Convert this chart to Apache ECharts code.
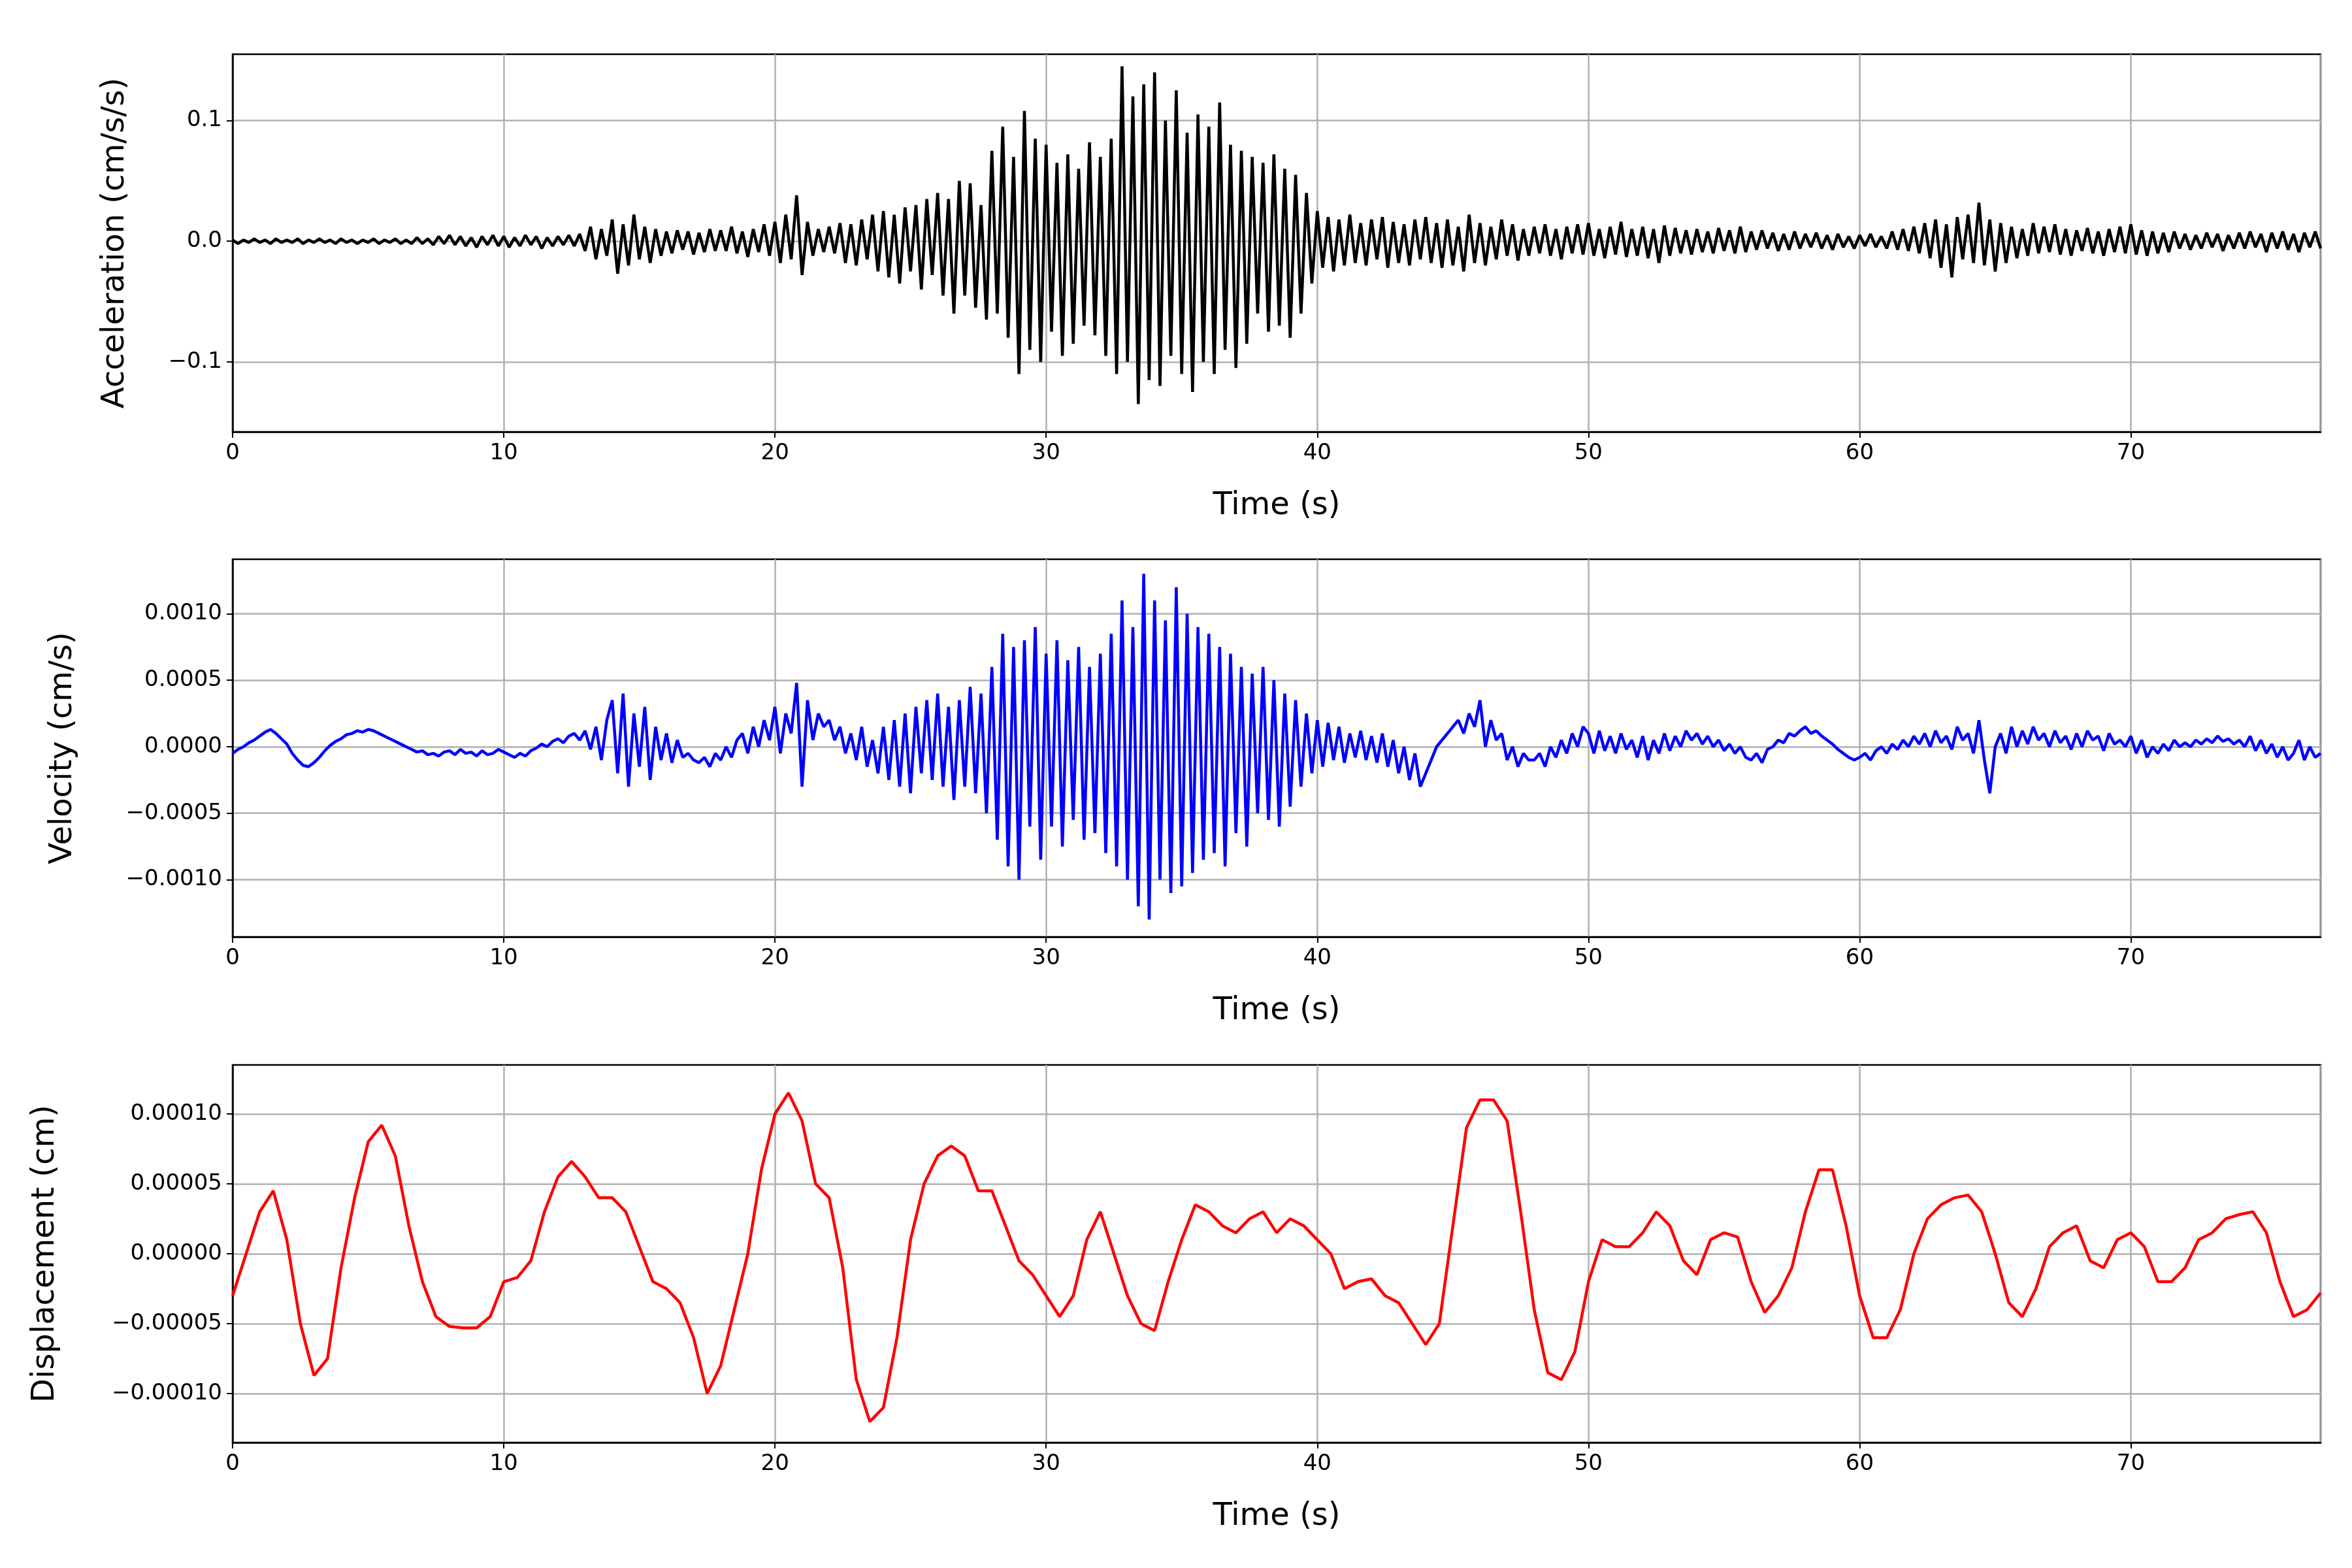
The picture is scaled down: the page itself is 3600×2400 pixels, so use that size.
<!DOCTYPE html>
<html><head><meta charset="utf-8">
<script src="https://cdn.jsdelivr.net/npm/echarts@6/dist/echarts.min.js"></script>
<style>html,body{margin:0;background:#fff}#c{width:3600px;height:2400px}</style>
</head><body><div id="c"></div>
<script>
// Acceleration, units of 1e-3 cm/s/s, every 0.2 s
const accMilli=[1,-2,1,-1,2,-1,1,-2,2,-1,1,-1,2,-2,1,-1,2,-1,1,-2,2,-1,1,-2,1,-1,2,-2,1,-1,2,-2,1,-2,3,-2,2,-3,4,-2,
5,-3,4,-4,3,-5,4,-3,5,-4,4,-5,3,-4,5,-3,4,-6,3,-4,4,-3,5,-4,6,-8,12,-15,10,-12,18,-27,14,-20,22,-15,12,-18,10,-12,
8,-10,9,-7,8,-11,7,-9,10,-8,9,-8,12,-10,8,-13,10,-9,14,-12,16,-18,22,-15,38,-28,16,-12,10,-9,12,-10,15,-18,14,-20,18,-15,22,-25,
25,-30,22,-35,28,-25,30,-40,35,-28,40,-45,35,-60,50,-45,48,-55,30,-65,75,-60,95,-80,70,-110,108,-90,85,-100,
80,-75,65,-95,72,-85,60,-70,82,-78,70,-95,85,-110,145,-100,120,-135,130,-115,140,-120,100,-95,125,-110,90,-125,105,-100,
95,-110,115,-90,80,-105,75,-85,70,-60,65,-75,72,-70,60,-80,55,-60,40,-35,25,-22,20,-25,18,-20,22,-18,15,-20,
18,-15,20,-22,16,-18,14,-20,18,-15,20,-18,15,-22,18,-20,12,-25,22,-18,15,-20,12,-15,18,-12,14,-16,10,-12,
12,-10,14,-12,10,-15,12,-10,14,-11,15,-12,10,-14,12,-11,16,-13,10,-12,12,-14,10,-18,13,-12,11,-10,9,-11,
10,-9,8,-10,11,-8,9,-10,12,-9,8,-7,9,-6,7,-8,6,-7,8,-6,6,-5,7,-6,5,-7,6,-5,4,-6,5,-4,6,-5,4,-6,8,-7,10,-8,
12,-10,15,-14,18,-22,14,-30,20,-15,22,-18,32,-20,18,-25,15,-18,12,-14,10,-12,15,-10,12,-9,14,-11,10,-12,
9,-8,11,-10,8,-12,10,-9,12,-10,14,-11,9,-12,8,-10,7,-9,8,-6,6,-7,5,-6,7,-5,6,-8,5,-6,7,-6,8,-5,6,-9,7,-6,8,-7,6,-9,7,-5,8,-6];
// Velocity, units of 1e-5 cm/s, every 0.2 s
const velE5=[-5,-2,0,3,5,8,11,13,10,6,2,-5,-10,-14,-15,-12,-8,-3,1,4,6,9,10,12,11,13,12,10,8,6,4,2,0,-2,-4,-3,-6,-5,-7,-4,
-3,-6,-2,-5,-4,-7,-3,-6,-5,-2,-4,-6,-8,-5,-7,-3,-1,2,0,4,6,3,8,10,5,12,-2,15,-10,20,35,-20,40,-30,25,-15,30,-25,15,-10,
10,-12,5,-8,-5,-10,-12,-8,-15,-5,-10,0,-8,5,10,-5,15,0,20,5,30,-5,25,10,48,-30,35,5,25,15,20,5,15,-5,10,-10,15,-15,5,-20,
15,-25,20,-30,25,-35,30,-20,35,-25,40,-30,30,-40,35,-30,45,-35,40,-50,60,-70,85,-90,75,-100,80,-60,90,-85,
70,-60,80,-75,65,-55,75,-70,60,-65,70,-80,85,-90,110,-100,90,-120,130,-130,110,-100,95,-110,120,-105,100,-95,90,-85,
85,-80,75,-90,70,-65,60,-75,55,-50,60,-55,50,-60,40,-45,35,-30,25,-20,20,-15,18,-10,15,-12,10,-8,12,-10,
8,-12,10,-15,5,-20,0,-25,-5,-30,-20,-10,0,5,10,15,20,10,25,15,35,0,20,5,10,-10,0,-15,-5,-10,-10,-5,-15,0,-8,5,-5,10,0,15,
10,-5,12,-3,8,-5,10,-2,5,-8,8,-10,5,-5,10,-3,8,0,12,5,10,2,8,0,5,-3,2,-5,0,-8,-10,-5,-12,-2,0,5,3,10,8,12,
15,10,12,8,5,2,-2,-5,-8,-10,-8,-5,-10,-3,0,-5,2,-2,5,0,8,2,10,0,12,3,8,-2,15,5,10,-5,20,-10,-35,0,10,-5,15,0,
12,2,15,5,10,0,12,3,8,-2,10,0,12,5,8,-3,10,2,5,0,8,-5,5,-8,0,-5,2,-3,5,0,3,0,5,2,6,3,8,4,6,2,5,0,8,-3,5,-5,2,-8,0,-10,-5,5,-10,0,-8,-5];
// Displacement, units of 1e-6 cm, every 0.5 s
const dispE6=[-30,0,30,45,10,-50,-87,-75,-10,40,80,92,70,20,-20,-45,-52,-53,-53,-45,-20,-17,-5,30,55,66,55,40,40,30,
5,-20,-25,-35,-60,-100,-80,-40,0,60,100,115,95,50,40,-10,-90,-120,-110,-60,10,50,70,77,70,45,45,20,-5,-15,
-30,-45,-30,10,30,0,-30,-50,-55,-20,10,35,30,20,15,25,30,15,25,20,10,0,-25,-20,-18,-30,-35,-50,-65,-50,
20,90,110,110,95,30,-40,-85,-90,-70,-20,10,5,5,15,30,20,-5,-15,10,15,12,-20,-42,-30,-10,30,60,60,20,
-30,-60,-60,-40,0,25,35,40,42,30,0,-35,-45,-25,5,15,20,-5,-10,10,15,5,-20,-20,-10,10,15,25,28,30,15,-20,-45,-40,-28];
const accData=accMilli.map((v,i)=>[i*0.2,v/1000]);
const velData=velE5.map((v,i)=>[i*0.2,v/1e5]);
const dispData=dispE6.map((v,i)=>[i*0.5,v/1e6]);
const accTicks=[-0.1,0,0.1], accLabels=['\u22120.1','0.0','0.1'];
const velTicks=[-0.001,-0.0005,0,0.0005,0.001], velLabels=['\u22120.0010','\u22120.0005','0.0000','0.0005','0.0010'];
const dispTicks=[-0.0001,-0.00005,0,0.00005,0.0001], dispLabels=['\u22120.00010','\u22120.00005','0.00000','0.00005','0.00010'];
const FONT='DejaVu Sans';
const tops=[83,856,1630], H=578;
const grids=tops.map(t=>({left:356,width:3196,top:t,height:H,show:true,borderColor:'#000',borderWidth:2.5,backgroundColor:'transparent'}));
const line={show:true,onZero:false,lineStyle:{color:'#000',width:2.5}};
const xAxes=[0,1,2].map(i=>({type:'value',gridIndex:i,min:0,max:77,interval:10,name:'Time (s)',nameLocation:'middle',nameGap:90,
 nameTextStyle:{fontFamily:FONT,fontSize:48,color:'#000'},
 axisLine:line,axisTick:{show:true,length:9,lineStyle:{color:'#000',width:2}},
 axisLabel:{showMaxLabel:false,fontFamily:FONT,fontSize:34,color:'#000',margin:16},
 splitLine:{show:true,lineStyle:{color:'#b0b0b0',width:2.5}}}));
function yAx(i,name,min,max,ticks,labels,gap){
 return {type:'value',gridIndex:i,min,max,name,nameLocation:'middle',nameGap:gap,
 nameTextStyle:{fontFamily:FONT,fontSize:48,color:'#000'},
 axisLine:line,
 axisTick:{show:true,length:9,customValues:ticks,lineStyle:{color:'#000',width:2}},
 axisLabel:{customValues:ticks,fontFamily:FONT,fontSize:34,color:'#000',margin:16,formatter:v=>{const k=ticks.findIndex(t=>Math.abs(t-v)<1e-12);return k>=0?labels[k]:'';}},
 splitLine:{show:true,lineStyle:{color:'#b0b0b0',width:2.5}}};
}
const yAxes=[yAx(0,'Acceleration (cm/s/s)',-0.158,0.155,accTicks,accLabels,155),
 yAx(1,'Velocity (cm/s)',-0.00143,0.00141,velTicks,velLabels,235),
 yAx(2,'Displacement (cm)',-0.000135,0.000135,dispTicks,dispLabels,262)];
const mk=(i,d,c)=>({type:'line',xAxisIndex:i,yAxisIndex:i,data:d,showSymbol:false,sampling:'none',animation:false,lineStyle:{color:c,width:4.5}});
const chart=echarts.init(document.getElementById('c'),null,{renderer:'canvas'});
chart.setOption({animation:false,backgroundColor:'#fff',grid:grids,xAxis:xAxes,yAxis:yAxes,
 series:[mk(0,accData,'#000'),mk(1,velData,'#0000ff'),mk(2,dispData,'#ff0000')]});
</script></body></html>
